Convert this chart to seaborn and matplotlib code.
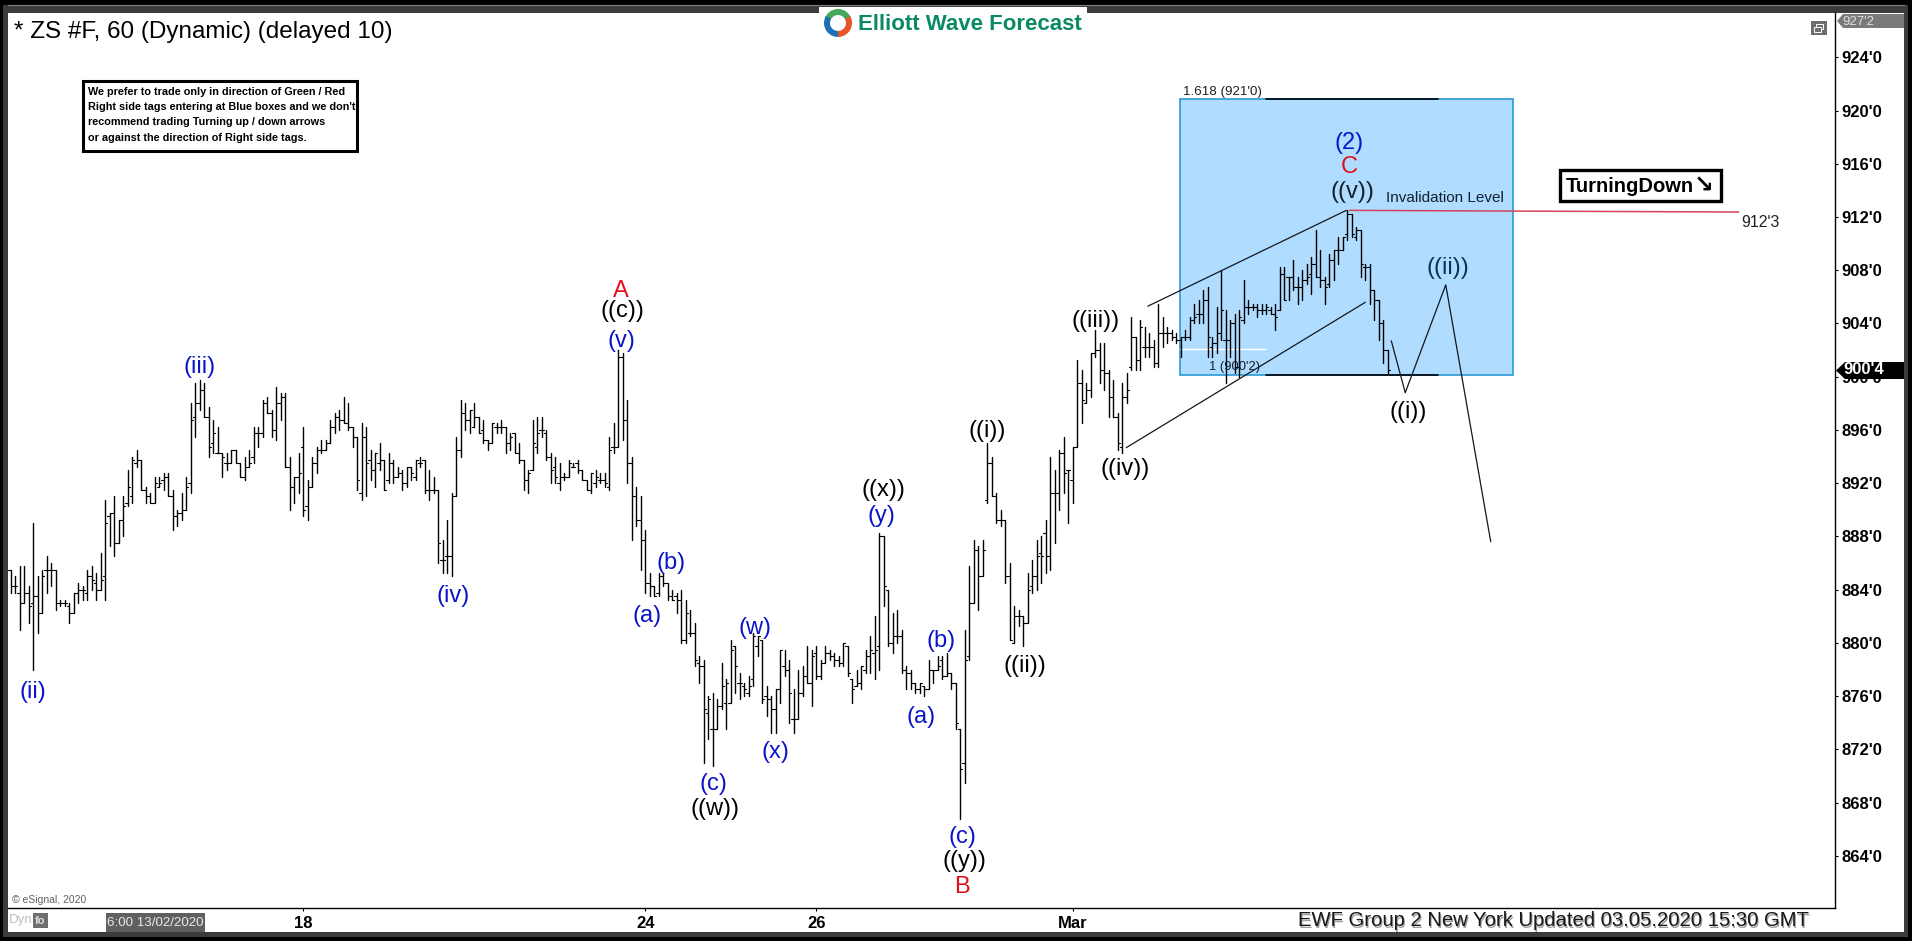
# ZS #F 60 min Elliott Wave chart, bars
import matplotlib
matplotlib.use('Agg')
import matplotlib.pyplot as plt
from matplotlib.patches import Rectangle, Polygon, Wedge
import numpy as np
import pandas as pd
import seaborn as sns

# ========= Data =========
highs = [885.5,885,885.75,885.75,884.25,889,885,885.5,886.5,886,
885.5,883.25,883.25,883,883.75,884.5,884.25,885.5,885.75,885.25,
886.75,890.75,889.75,891,889.25,891,893,894,894.5,893.75,
891.75,891.25,892.5,892.5,892.75,892.75,891.5,890,891.25,892.5,
898,899.5,899.75,899.5,897.75,896.75,896.25,894.25,894.25,894.5,
894.5,893.5,894,894.5,896.25,896.25,898.25,898.5,897.5,899.25,
898.75,898.75,894,892.5,894.25,896.25,892.25,894,894.75,895.25,
895.25,896.75,897.25,897.5,898.5,898,896.25,895.5,896.5,896.25,
894.5,894.25,895,893.75,894.25,893.75,893.25,893,893.25,893.25,
893.75,894,893.75,893,892.5,891.5,887.75,889.25,891.25,895.5,
898.25,898,897.5,898,897,896.75,895.25,896.5,896.5,896.75,
896.25,895.75,895.75,895,893.75,893,896.75,897,897,896,
894.25,894,893.5,892.75,893.75,893.5,893.75,893,892.25,892.75,
893,892.75,892.75,895.5,896.5,902,901.75,898.25,894,891.75,
891,888.5,885.25,884.25,885.25,885.25,884.5,884,883.75,884,
883.25,882.5,881.5,879,878.75,876,876.25,875.75,878.5,877.25,
880.25,879.75,877.75,877,877.5,880.75,880.5,880.25,876.75,876,
876.5,879.5,879.5,878.75,876.5,878,878.25,879.75,879.5,879.75,
878.75,879.75,879.5,879.25,879,880,879.75,877.25,878,878.25,
879.5,880.5,882,888.25,888,884,882.25,882.5,881,878.25,
878,877,877,876.75,878.75,878,879,879,879.25,877.75,
877,873.5,881,885.75,887.75,887.25,887.75,895,894,891.25,
890,889.25,886,882.75,882.5,882,885.25,886.25,887.75,888,
889.25,894,893,894.5,895.5,893,894.75,901.25,900.5,899.5,
901.75,903.5,902.5,902.5,900.5,899.75,897.25,899.5,900.25,904.5,
903,904.25,903.75,903.25,902.75,905.5,904.5,903.75,903.5,903.25,
903,903.5,904.5,905.5,905.75,906.5,906.75,903,905.25,908,
905,904.25,904.75,905,907.25,905.75,905.5,905.5,905.5,905.5,
905.25,905.5,908.25,908.25,907.5,908.75,907.5,908,908.5,909,
911,909.5,907.5,909.25,909.5,910.5,910.5,912.5,912.25,911.25,
911,908.5,908.5,906.5,905.75,904.25,902]

lows = [883.75,883.75,881,883,881.5,878,880.75,882.25,883.75,884.25,
882.5,882.75,882.75,881.5,882.25,883,883.25,883.25,884,883.25,
884,883.25,887.25,886.5,887.5,888,890.25,890.5,893.25,891.5,
890.5,890.5,890.5,891.75,891.5,891,888.5,888.75,889.25,890,
891.25,895.5,897.5,897,894,894.25,894.25,892.5,893,893.5,
893.5,892.5,892.25,893.25,893.5,894.75,895.5,897.25,895.5,895.25,
896.75,893.25,890,890.5,891.25,889.5,889.25,891.75,892.75,894.25,
894.5,895,895.75,896,896.5,896,894.75,891.5,890.75,891,
892.25,891.75,893,891.5,892,892,892.5,891.5,891.75,892.25,
892.25,893.25,891.25,890.75,891.25,886,885.25,885.25,885,891,
894,896,895.75,896.25,895.75,895,894.5,895,895.75,895.75,
894.25,894.5,894.25,893.5,891.5,891.25,893,894.25,895.5,893.75,
892,892,891.5,892.25,892.5,893.25,892.75,892.25,891.5,891.25,
891.75,892,891.75,891.5,894.25,894.75,895.25,892,887.75,888.75,
885.5,883.75,883.5,883.5,883.5,884.25,883.25,883.25,882.25,880,
880,880.5,878.25,877,871,872.75,870.75,873.5,875,873.5,
875.5,876.25,875.75,876,876,876.75,879,875.5,874.5,873.25,
873.25,875.5,877.5,874,873.25,874.25,876,877,875.25,877.25,
877.25,878.5,878.75,878.25,878.25,878.25,877.5,875.5,876.75,876.5,
877.75,877.75,877.25,878,882.75,879.75,879.25,880,877.75,876.5,
876.5,876.25,876.25,876,876.5,877,878,877.25,877.5,876.5,
873.5,866.75,869.5,878.75,883,882.5,885,890.5,891,889,
888.75,884.5,880.25,880,881.25,879.75,881.5,883.75,884,884.5,
885.25,885.5,887.5,890,891.25,889,890.5,894.75,896.5,898,
898.5,901.5,899.5,899,897,897,894.5,894.25,898,900.5,
900.5,900.5,901.5,901.5,900.75,900.75,902.25,902.5,902.75,902.5,
901.5,902.75,902.75,904,904,904,901.5,901.5,901.75,902.75,
899.5,901.5,900.25,900,904,904.75,905,904.5,904.75,904.75,
904.75,903.5,905,905.75,905.75,906.5,905.5,905.75,907,906.25,
907.5,906.75,905.5,906.75,907.25,908.5,909.5,910.25,910.5,910.25,
907.5,907.25,905.5,904.25,902.75,901,900.25]

opens = [885.5,884.25,883.75,883,883.75,883,883.5,882.25,885.5,885.5,
885.5,883,883,882.75,882.25,883.75,884,883.75,885,884.5,
884,885,889.5,889.75,887.5,889.25,890.5,891,893.5,893.75,
891.5,891,890.5,891.75,892.25,892.5,891,889.5,889.75,890,
892,897,898,899,897,895,894.25,894.25,893.5,893.5,
894.5,893.5,892.5,893.25,894,895.75,895.75,898,897.25,896,
898,898.5,893.25,891.75,892.5,894.75,890.25,891.75,893.5,894.5,
894.5,895,896.25,897,896.75,896.5,896.25,895.5,891.25,895.5,
893.75,893,893.5,893.75,892.25,893.5,892.5,892.75,892,893.25,
892.5,893.5,893.75,891.5,891.5,891.5,886.25,886.5,886.5,891,
894.5,897.25,896.75,896.25,897,896,895.25,895,896.25,896.25,
896.25,895,895.75,894.25,893.75,892.25,893,894.75,896,895.75,
894,893.25,892,892.5,892.5,893.25,893.5,893,892.25,891.5,
892,892.25,892.25,891.75,894.75,894.75,901.5,896.75,893.5,891,
889.25,887.75,884.5,884.25,883.75,885,884.5,883.5,883.5,883.25,
880.25,880.75,880.75,878.5,878.25,874.75,873.5,873.5,875.25,875.5,
875.5,879.75,877,876.75,876.25,877.25,879.75,880.25,876,875.75,
875,876.5,878.25,878,874.25,874.25,876.25,877.5,877,879.25,
877.5,878.5,879.25,879,878.75,878.5,879.75,877.25,876.75,877,
878,879,879.25,879.75,888,884,880,880.5,880.5,878,
877.75,877,876.5,876.75,876.5,878,878,878.75,877.5,877.75,
877,873.5,871,879,883,887,885,890.75,893.5,891,
889.25,889.25,885,880,882,882,881.5,884.25,885,886.75,
888.25,886.5,891.25,891.25,894.25,893,892.25,894.75,899.5,898,
899,901.75,902,900.5,900.25,898.5,897,894.75,898.5,900.75,
903,901.25,902.25,902.25,902.25,901,903.25,903.25,903.25,903,
902.75,903,903,904.25,904.75,904.75,905.75,902.25,902.5,903.25,
902.75,902.75,904,900.75,904.25,905.25,905.25,905.25,905,905,
905,904.75,905,907.75,907.5,907.5,906.75,906.75,907.25,907.75,
908.5,907.5,907.25,907,908.75,909.5,909.5,910.75,912.25,910.5,
911,908.25,908.25,906.5,905.75,904,902]

closes = [884.25,884.25,883,883.75,882.75,883.5,882.25,885,885.5,885.5,
883,883,883,882.25,883.75,884,884,885,884.75,884,
884.75,889,889.75,887.5,889.25,890.25,891.75,893.75,893.75,891.5,
891,890.5,892,892,892.5,891,889.5,889.75,890,891.75,
896.75,898,899,897,894.75,895.75,894.25,894,893.5,894.5,
893.5,892.5,893.25,893.5,895.75,895.75,898,897.25,896,898,
898.5,893.25,891.75,892.5,892.75,890,891.75,893.5,894.5,894.5,
895,896.25,897,896.75,896.5,896.25,895.5,892.25,895.5,893.5,
893,894.25,893.75,891.5,893.5,892.5,892.75,892,893.25,892.75,
893.75,893.5,891.5,891.5,891.5,887.5,886.25,886.5,891,894.5,
897.25,896.75,897.5,897,895.75,895.25,895,896.5,896.25,896.25,
895,895.5,894.25,893.75,892.25,892.75,895,895.75,896,894,
893,892.5,892.5,892.5,893.5,893.25,893,892.25,891.5,892.75,
892.5,892.25,892,894.5,894.75,901.5,896.75,893.5,891,889.25,
887.75,884.5,884.25,883.5,885,884.5,883.5,883.25,883.25,880.25,
882.25,880.75,878.75,878.25,875,875.75,873.5,875.25,876.75,877,
879.5,878.25,877,876.5,876.75,880.5,880.5,875.75,875.75,875,
876.5,879.5,878,876.25,874.25,876.25,877.5,877,879,877.5,
878.5,879.25,879,878.75,878.5,880,877.75,876.5,877,878.25,
879,879.5,879.5,888,884.25,880,880.5,880.5,878,877.75,
877,876.5,877,876.5,878,878,878.25,877.5,877.75,877,
874,870.5,878.75,883,887,885,887,893.5,891,889.25,
889.25,885,880.25,882,882,881.5,884,885,886.5,886.5,
886.5,891.25,891.25,894.25,892.75,893,894.75,899.5,898.25,899,
901.75,902,900.5,900.25,898.5,897,895,898.5,899,903,
901.25,903.75,902.25,902.25,901,903.25,903.25,903.25,903,902.75,
903,903,904.25,904.5,904.75,905.75,903,902.5,903.25,905,
902.75,904,900.75,904.5,905.25,905.25,905.25,905,905,905.25,
904.75,904.5,907.75,905.75,907.5,906.75,906.75,907.25,907.5,908.5,
907.5,907.25,906.75,908.75,909.5,909.5,910.5,912.25,910.75,911,
908.5,908.25,906.5,905.75,904,902,900.5]

price_ticks = [864, 868, 872, 876, 880, 884, 888, 892, 896, 900, 904, 908, 912, 916, 920, 924]
price_tick_labels = ["864'0", "868'0", "872'0", "876'0", "880'0", "884'0", "888'0", "892'0",
                     "896'0", "900'0", "904'0", "908'0", "912'0", "916'0", "920'0", "924'0"]
date_ticks = [65, 141, 179, 236]
date_tick_labels = ['18', '24', '26', 'Mar']

box_bars = [259.8, 333.8]
box_prices = [900.15, 920.9]
box_dark_bars = [279, 317.2]
inval_bars = [297.5, 384]
inval_prices = [912.5, 912.375]
channel_top_bars = [252.7, 296.8]
channel_top_prices = [905.3, 912.5]
channel_low_bars = [247.9, 301.05]
channel_low_prices = [894.67, 905.6]
path_bars = [306.8, 309.9, 318.9, 328.9]
path_prices = [902.7, 898.8, 906.9, 887.6]

# ========= Layout =========
W, H = 1912, 941
BLUE, RED, DARK = '#0a14c8', '#e0101a', '#0a3450'
wave_labels = [
    ('(iii)', 200, 367, BLUE), ('A', 621, 291, RED), ('((c))', 622, 311, 'black'),
    ('(v)', 621, 341, BLUE), ('(ii)', 33, 692, BLUE), ('(iv)', 453, 596, BLUE),
    ('(a)', 647, 616, BLUE), ('(b)', 671, 563, BLUE), ('(w)', 755, 628, BLUE),
    ('(x)', 775, 752, BLUE), ('(c)', 713, 784, BLUE), ('((w))', 715, 809, 'black'),
    ('((x))', 883, 490, 'black'), ('(y)', 881, 516, BLUE), ('(a)', 921, 717, BLUE),
    ('(b)', 941, 641, BLUE), ('(c)', 962, 837, BLUE), ('((y))', 964, 861, 'black'),
    ('B', 962, 887, RED), ('((ii))', 1025, 666, 'black'), ('((i))', 987, 431, 'black'),
    ('((iii))', 1096, 321, 'black'), ('((iv))', 1125, 469, 'black'), ('(2)', 1349, 143, BLUE),
    ('C', 1349, 167, RED), ('((v))', 1352, 192, '#10202c'), ('((ii))', 1448, 268, DARK),
    ('((i))', 1408, 412, 'black'),
]
note_lines = ['We prefer to trade only in direction of Green / Red',
              "Right side tags entering at Blue boxes and we don't",
              'recommend trading Turning up / down arrows',
              'or against the direction of Right side tags.']

sns.set_theme(style='white', rc={'axes.edgecolor': 'black', 'axes.linewidth': 1.0})
plt.rcParams['font.family'] = ['Liberation Sans', 'DejaVu Sans']

fig = plt.figure(figsize=(W / 100, H / 100), dpi=100, facecolor='black')


def pixel_axes(z):
    a = fig.add_axes([0, 0, 1, 1], zorder=z)
    a.set_xlim(0, W)
    a.set_ylim(H, 0)
    a.axis('off')
    a.patch.set_alpha(0)
    return a


# window frame behind the chart
bg = pixel_axes(0)
bg.add_patch(Rectangle((3, 5), W - 7, H - 9, fc='#3c3c3c', ec='none'))
bg.plot([8, W - 8], [5, 5], color='#808080', lw=0.8)
bg.add_patch(Rectangle((8, 13), 1896, 919, fc='white', ec='none'))

# ========= Plotting =========
left, right, top, bottom = 8, 1835, 13, 908
ax = fig.add_axes([left / W, 1 - bottom / H, (right - left) / W, (bottom - top) / H], zorder=1)
ax.patch.set_alpha(0)

bars = np.arange(len(highs))
ax.set_xlim(-0.6, 405.4)
ax.set_ylim(860.08, 927.33)

# blue target box
ax.add_patch(Rectangle((box_bars[0], box_prices[0]), box_bars[1] - box_bars[0], box_prices[1] - box_prices[0],
                       fc='#b0dcff', ec='#2a9ad8', lw=1.2, zorder=1))
for p in box_prices:
    sns.lineplot(x=box_dark_bars, y=[p, p], color='black', lw=1.2, ax=ax, zorder=2)
sns.lineplot(x=[box_bars[0], box_dark_bars[0]], y=[902.1, 902.1], color='white', lw=1.0, ax=ax, zorder=2)

# OHLC bars
wicks = pd.DataFrame({'bar': np.repeat(bars, 2), 'x': np.repeat(bars, 2),
                      'price': np.column_stack([highs, lows]).ravel()})
sns.lineplot(data=wicks, x='x', y='price', units='bar', estimator=None, sort=False,
             color='black', lw=1.0, ax=ax, legend=False, zorder=3)
left_ticks = pd.DataFrame({'bar': np.repeat(bars, 2),
                           'x': np.column_stack([bars - 0.5, bars]).ravel(),
                           'price': np.repeat(opens, 2)})
sns.lineplot(data=left_ticks, x='x', y='price', units='bar', estimator=None, sort=False,
             color='black', lw=0.8, ax=ax, legend=False, zorder=3)
right_ticks = pd.DataFrame({'bar': np.repeat(bars, 2),
                            'x': np.column_stack([bars, bars + 0.5]).ravel(),
                            'price': np.repeat(closes, 2)})
sns.lineplot(data=right_ticks, x='x', y='price', units='bar', estimator=None, sort=False,
             color='black', lw=0.8, ax=ax, legend=False, zorder=3)

# wave drawing on top of the bars
sns.lineplot(x=channel_top_bars, y=channel_top_prices, color='#101820', lw=0.9, ax=ax, zorder=4)
sns.lineplot(x=channel_low_bars, y=channel_low_prices, color='#101820', lw=0.9, ax=ax, zorder=4)
sns.lineplot(x=path_bars, y=path_prices, sort=False, color='#101820', lw=0.9, ax=ax, zorder=4)
sns.lineplot(x=inval_bars, y=inval_prices, color='#d8405a', lw=1.1, ax=ax, zorder=4)

# axes
sns.despine(ax=ax, top=True, left=True, right=False, bottom=False)
ax.yaxis.tick_right()
ax.set_yticks(price_ticks)
ax.set_yticklabels(price_tick_labels, fontsize=12, fontweight='bold', color='black')
ax.set_xticks(date_ticks)
ax.set_xticklabels(date_tick_labels, fontsize=12, fontweight='bold', color='black')
ax.tick_params(axis='y', which='major', length=2.5, width=0.8, pad=2, color='black', right=True)
ax.tick_params(axis='x', which='major', length=2.5, width=0.8, pad=3, color='black', bottom=True)
ax.set_xlabel('')
ax.set_ylabel('')

# texts and tags in pixel positions
fg = pixel_axes(2)
fg.text(14, 32, '* ZS #F, 60 (Dynamic) (delayed 10)', fontsize=17.5, va='center', color='black')

# note box
fg.add_patch(Rectangle((83, 81), 274, 70, fc='white', ec='black', lw=2.2))
for i, line in enumerate(note_lines):
    fg.text(88.5, 92 + i * 15.2, line, fontsize=7.8, fontweight='bold', va='center', color='black')

# logo
fg.add_patch(Rectangle((819, 7), 268, 33, fc='white', ec='none'))
fg.add_patch(Wedge((838, 23), 14, 200, 340, width=6, fc='#45a85a', ec='none'))
fg.add_patch(Wedge((838, 23), 14, 80, 210, width=6, fc='#1f6fb5', ec='none'))
fg.add_patch(Wedge((838, 23), 14, 330, 90, width=6, fc='#e8552a', ec='none'))
fg.text(858, 24, 'Elliott Wave Forecast', fontsize=16, fontweight='bold', va='center', color='#0a8a64')

for txt, x, y, c in wave_labels:
    fg.text(x, y, txt, fontsize=17, ha='center', va='center', color=c)

fg.text(1223, 92, "1.618 (921'0)", fontsize=9.6, ha='center', va='center', color='#202020')
fg.text(1235, 367, "1 (900'2)", fontsize=9.4, ha='center', va='center', color='#102030')
fg.text(1445, 198, 'Invalidation Level', fontsize=11, ha='center', va='center', color='#102030')
fg.text(1760, 222, "912'3", fontsize=11.5, ha='center', va='center', color='#202020')

# TurningDown tag
fg.add_patch(Rectangle((1560, 170), 161, 31, fc='white', ec='black', lw=2.4))
fg.text(1566, 186, 'TurningDown', fontsize=14.5, fontweight='bold', va='center', color='black')
fg.text(1704, 186, '\u2198', fontsize=17, fontweight='bold', ha='center', va='center',
        color='black', family='DejaVu Sans')

# price tags on the right axis
fg.add_patch(Polygon([[1837, 21], [1843, 14], [1904, 14], [1904, 28], [1843, 28]], fc='#7a7a7a', ec='none'))
fg.text(1842, 21.5, "927'2", fontsize=9.5, va='center', color='#e0e0e0')
fg.add_patch(Polygon([[1836, 370.5], [1845, 362], [1904, 362], [1904, 379], [1845, 379]], fc='black', ec='none'))
fg.text(1843, 370, "900'4", fontsize=12, fontweight='bold', va='center', color='white')

# little window icon
fg.add_patch(Rectangle((1811, 21), 16, 14, fc='#6e6e6e', ec='none'))
fg.add_patch(Rectangle((1816, 24), 7, 5, fc='none', ec='white', lw=0.7))
fg.add_patch(Rectangle((1814, 27), 7, 5, fc='#6e6e6e', ec='white', lw=0.7))

# bottom strip
fg.text(12, 900, '\u00a9 eSignal, 2020', fontsize=7.5, va='center', color='#606060')
fg.text(9, 920, 'Dyn', fontsize=9.5, va='center', color='#c0c0c0')
fg.add_patch(Rectangle((33, 913), 15, 15, fc='#6e6e6e', ec='none'))
fg.text(40.5, 920.5, 'fo', fontsize=8, fontweight='bold', ha='center', va='center', color='#e0e0e0')
fg.add_patch(Rectangle((106, 913), 99, 19, fc='#606060', ec='none'))
fg.text(107, 923, '6:00 13/02/2020', fontsize=9.6, va='center', color='#e8e8e8')

footer = 'EWF Group 2 New York Updated 03.05.2020 15:30 GMT'
fg.text(1299.5, 922.5, footer, fontsize=14.6, va='center', color='#a0a0a0')
fg.text(1298, 921, footer, fontsize=14.6, va='center', color='#181818')

fig.savefig('out.png', dpi=100, facecolor='black')
